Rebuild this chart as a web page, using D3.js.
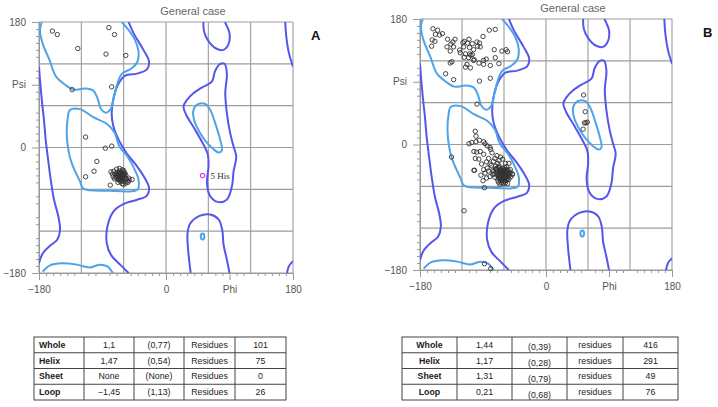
<!DOCTYPE html>
<html><head><meta charset="utf-8">
<script src="https://cdn.jsdelivr.net/npm/d3@7"></script>
<style>body{margin:0;background:#fff} svg{display:block}</style>
</head><body>
<svg id="chart" width="718" height="407"></svg>
<script>
// ---- axis / tick labels ----
var gridVals = [-180, -120, -60, 0, 60, 120, 180];
var minorVals = [-170,-160,-150,-140,-130,-110,-100,-80,-70,-50,-40,-30,-20,-10,10,20,30,40,50,70,80,100,110,130,140,150,160,170];
var psiTickVals = [180, 90, 0, -180];
var psiTickLabels = ["180", "Psi", "0", "\u2212180"];
var phiTickVals = [-180, 0, 90, 180];
var phiTickLabels = ["\u2212180", "0", "Phi", "180"];

// ---- contour lines (phi, psi) ----
var outerLeftEdge = [[-180,116],[-178.6,97],[-176,68],[-173,40],[-170.5,11],[-167,-18],[-163.4,-46],[-158.7,-75],[-152.6,-99],[-150.2,-118],[-154,-132],[-164.4,-141],[-174.8,-152],[-180,-166]];
var outerAlphaBeta = [[-53,180],[-46,164],[-32,140],[-24,123],[-27,112],[-41,106],[-58,103],[-67,92],[-74,73],[-77,49],[-74.5,30],[-67,11],[-56,-8],[-41,-27],[-30,-44],[-24,-58],[-27,-69],[-41,-75],[-60,-81],[-74.5,-92],[-83,-113],[-84,-137],[-78,-154],[-65,-168],[-53,-180]];
var outerRightTop = [[169,180],[170.5,159],[174.3,135],[180,116]];
var outerRightBottom = [[180,-163],[174.3,-170],[171.4,-180]];
var outerLeftHand = [[29.5,68],[24.8,59],[28.6,47],[40,27.6],[50.8,8.5],[59,-9],[60.3,-27],[58,-49],[61.7,-68],[73,-78],[86,-75],[93.4,-56],[95.8,-34],[99.5,-13],[95.8,1.4],[91,20.5],[86.3,49],[84,78],[86.3,106],[83,120],[76.8,120],[69.7,110],[65,94.5],[50.8,86],[38,77]];
var outerGammaTop = [[53,180],[54,166],[60,153],[71,142],[81.6,140],[88.7,148.5],[90,164],[86.3,174],[83.5,180]];
var outerGammaBottom = [[35,-180],[33.3,-166],[31.4,-147],[30.5,-123],[34.3,-109],[47.5,-98],[62.6,-96],[74.5,-103],[79.7,-118],[81.6,-139.5],[86.3,-161],[90,-180]];
var innerBetaTop = [[-176,180],[-178.6,168.5],[-174.8,149],[-165.3,126],[-156,102],[-143,90],[-131,83],[-115,84.5],[-103,81.6],[-97,70.6],[-92.5,56],[-85,50],[-78,56],[-73.6,73],[-68.8,92],[-62.7,105.5],[-48.5,113.6],[-40.5,123],[-39,137.5],[-43.8,154],[-53,168.5],[-62.7,180]];
var innerBetaBottom = [[-174.8,-178],[-164.4,-169],[-147.8,-166],[-126.5,-168],[-108.6,-172],[-93.4,-168],[-83,-170.6],[-77,-177.7],[-75.5,-180]];
var innerAlpha = [[-136,54],[-121.8,55],[-103,43.4],[-84,34],[-73,21.4],[-66,1.4],[-54.7,-13],[-45.2,-30],[-39,-46],[-40,-60],[-51,-63],[-79,-62],[-117,-59],[-121.8,-49],[-133.6,-22.5],[-138.4,-3.4],[-140.7,20.5],[-139.3,42]];
var innerLeftHand = [[46,62.5],[55.6,62.5],[62.6,54],[69.7,35],[76.8,11],[79.2,-4.4],[74.5,-7.2],[67.4,-2.4],[58,7],[48.5,20.5],[40,38.6],[39,54]];
var innerSmall = [51.8, -127.6];

// ---- residues, plot A ----
var pointsA = [[-161,167],[-154,162],[-125,142],[-81,172],[-73,162],[-85,134],[-57,132],[-133,83],[-77,87],
  [-114,15],[-86,-1],[-77,2],[-98,-20],[-102,-34],[-114,-42],[-79,-54],[-48,-46],[-54,-50],[-60,-53],
  [-64,-40],[-66,-42],[-62,-38],[-65,-37],[-63,-44],[-60,-41],[-68,-39],[-61,-45],[-67,-44],[-64,-36],
  [-59,-38],[-70,-41],[-62,-47],[-66,-34],[-58,-43],[-69,-36],[-63,-41],[-65,-46],[-61,-35],[-67,-40],
  [-60,-48],[-72,-38],[-57,-40],[-64,-49],[-68,-46],[-62,-32],[-56,-45],[-71,-43],[-66,-38],[-63,-39],
  [-59,-44],[-65,-43],[-62,-42],[-67,-37],[-61,-39],[-64,-45],[-58,-37],[-69,-42],[-60,-36],[-66,-47],
  [-74,-34],[-76,-38],[-55,-48],[-53,-44],[-70,-31],[-73,-45],[-57,-51],[-78,-35],[-52,-47],[-62,-52],
  [-68,-50],[-75,-42],[-66,-30],[-60,-33]];
var outlierA = [[51.8, -40.2, "5 His"]];

// ---- residues, plot B ----
var pointsB = [
  [-161.5,166],[-154.8,164],[-158,158],[-152,157],[-148,159],[-162.5,150],[-158.7,148],[-163.4,141],[-140.6,151],[-133,147],
  [-130,151],[-135.8,144],[-141.5,140],[-132,140],[-136.8,134],[-123.4,135.5],[-118.7,146],[-116.8,148],[-110,151],[-112,145.5],
  [-105.3,144.6],[-98.7,147],[-94.9,145.5],[-97.7,141],[-93.9,140],[-117.7,140],[-109.2,139],[-103.4,136],[-122.5,131.6],[-114.9,130],
  [-109.2,130],[-107.3,128],[-105.3,129],[-116.8,125],[-110.6,124.5],[-103.4,120.6],[-102.5,121.6],[-95.8,116.8],[-89.2,120.6],[-85.4,122.5],
  [-90,155],[-81,164],[-72.5,165],[-74,136],[-63,134],[-57,136],[-55,133],[-72.5,124.5],[-67.3,116],[-89.2,115],
  [-79.6,113.4],[-113,115],[-115,111],[-108,110],[-136.8,117],[-134.4,118.7],[-143.4,101.5],[-132,93],[-95,91],[-79.6,95],
  [-98.6,58],[-88,-171],[-79,-178],[-117,-95],[-88,-62],[-135,-18],
  [53.7,71],[56,47],[55,31],[57,31],[59,32],[53,22],
  [-101,19],[-100,12],[-110,1],[-106,3],[-100,4],[-95,6],[-89,4],[-87,1],[-84,-2],[-80,-4],[-79,-7],
  [-103,-10],[-99,-11],[-94,-10],[-89,-14],[-101,-20],[-96,-21],[-70,-16],[-65,-18],[-75,-24],[-67,-23],
  [-62,-21],[-80,-28],[-72,-31],[-84,-34],[-89,-36],[-103,-37],[-102,-37],[-87,-41],[-80,-46],[-75,-39],
  [-58,-27],[-56,-32],[-53,-27],[-51,-36],[-48,-42],
  [-77,-12],[-73,-20],[-69,-27],[-82,-20],[-78,-30],[-71,-36],[-85,-25],[-92,-28],[-76,-43],[-82,-38],[-93,-44],[-85,-48],[-90,-52],
  [-61,-42],[-63,-40],[-59,-44],[-65,-43],[-60,-38],[-57,-41],[-62,-46],[-64,-37],[-58,-47],[-66,-40],
  [-56,-44],[-61,-49],[-63,-45],[-67,-46],[-59,-36],[-55,-39],[-62,-34],[-68,-43],[-60,-51],[-64,-48],
  [-57,-50],[-65,-35],[-53,-45],[-69,-38],[-58,-39],[-62,-43],[-60,-45],[-66,-49],[-54,-48],[-63,-52],
  [-67,-33],[-56,-36],[-70,-44],[-61,-37],[-59,-53],[-65,-51],[-52,-42],[-68,-48],[-62,-40],[-58,-42],
  [-64,-44],[-60,-41],[-57,-46],[-63,-49],[-61,-47],[-55,-43],[-66,-45],[-59,-40],[-62,-38],[-65,-41],
  [-71,-40],[-72,-35],[-53,-50],[-58,-55],[-64,-55],[-50,-46],[-69,-51],[-74,-42],[-67,-31],[-54,-37],
  [-60,-43],[-62,-44],[-58,-45],[-63,-42],[-61,-39],[-57,-38],[-65,-47],[-59,-48],[-66,-37],[-56,-51],
  [-73,-47],[-70,-34],[-51,-40],[-76,-37],[-68,-54],[-55,-56],[-61,-56],[-48,-43],[-66,-57],[-59,-33]];

// ---- tables ----
var rowNames = ["Whole", "Helix", "Sheet", "Loop"];
var scoreA = ["1,1", "1,47", "None", "\u22121,45"];
var errA = ["(0,77)", "(0,54)", "(None)", "(1,13)"];
var countA = [101, 75, 0, 26];
var scoreB = ["1,44", "1,17", "1,31", "0,21"];
var errB = ["(0,39)", "(0,28)", "(0,79)", "(0,68)"];
var countB = [416, 291, 49, 76];

var svg = d3.select("#chart");
var outerColor = "#5656ec", innerColor = "#4ea4e8";

function drawPlot(p) {
  var x = d3.scaleLinear().domain([-180, 180]).range([p.x0, p.x1]);
  var y = d3.scaleLinear().domain([-180, 180]).range([p.y1, p.y0]);
  var g = svg.append("g");

  g.append("clipPath").attr("id", p.id + "clip").append("rect")
    .attr("x", p.x0).attr("y", p.y0).attr("width", p.x1 - p.x0).attr("height", p.y1 - p.y0);

  // grid
  g.selectAll(".gv").data(gridVals).enter().append("line")
    .attr("x1", d => x(d)).attr("x2", d => x(d)).attr("y1", p.y0).attr("y2", p.y1)
    .attr("stroke", "#9c9c9c").attr("stroke-width", 1.1);
  g.selectAll(".gh").data(gridVals).enter().append("line")
    .attr("y1", d => y(d)).attr("y2", d => y(d)).attr("x1", p.x0).attr("x2", p.x1)
    .attr("stroke", "#9c9c9c").attr("stroke-width", 1.1);

  // axes
  var axes = [
    g.append("g").attr("transform", "translate(" + p.x0 + ",0)")
      .call(d3.axisLeft(y).tickValues(minorVals).tickSize(3).tickSizeOuter(0).tickFormat("")),
    g.append("g").attr("transform", "translate(" + p.x0 + ",0)")
      .call(d3.axisLeft(y).tickValues(psiTickVals).tickSize(7).tickPadding(6).tickSizeOuter(0).tickFormat((d, i) => psiTickLabels[i])),
    g.append("g").attr("transform", "translate(0," + p.y1 + ")")
      .call(d3.axisBottom(x).tickValues(minorVals).tickSize(3).tickSizeOuter(0).tickFormat("")),
    g.append("g").attr("transform", "translate(0," + p.y1 + ")")
      .call(d3.axisBottom(x).tickValues(phiTickVals).tickSize(7).tickPadding(6).tickSizeOuter(0).tickFormat((d, i) => phiTickLabels[i]))
  ];
  axes.forEach(function(a) {
    a.select(".domain").attr("stroke", "#999");
    a.selectAll(".tick line").attr("stroke", "#999");
    a.selectAll("text").attr("fill", "#555").attr("font-family", "Liberation Sans, Arial, sans-serif").attr("font-size", 10);
  });

  // contours
  var cg = g.append("g").attr("clip-path", "url(#" + p.id + "clip)").attr("fill", "none").attr("stroke-width", 2);
  var open = d3.line().x(d => x(d[0])).y(d => y(d[1])).curve(d3.curveCatmullRom);
  var closed = d3.line().x(d => x(d[0])).y(d => y(d[1])).curve(d3.curveCatmullRomClosed);
  [outerLeftEdge, outerAlphaBeta, outerRightTop, outerRightBottom, outerGammaTop, outerGammaBottom].forEach(function(c) {
    cg.append("path").attr("d", open(c)).attr("stroke", outerColor);
  });
  cg.append("path").attr("d", closed(outerLeftHand)).attr("stroke", outerColor);
  [innerBetaTop, innerBetaBottom].forEach(function(c) {
    cg.append("path").attr("d", open(c)).attr("stroke", innerColor);
  });
  cg.append("path").attr("d", closed(innerAlpha)).attr("stroke", innerColor);
  cg.append("path").attr("d", closed(innerLeftHand)).attr("stroke", innerColor);
  cg.append("ellipse").attr("cx", x(innerSmall[0])).attr("cy", y(innerSmall[1]))
    .attr("rx", 1.8).attr("ry", 3).attr("stroke", innerColor);

  // residues
  g.append("g").selectAll("circle").data(p.points).enter().append("circle")
    .attr("cx", d => x(d[0])).attr("cy", d => y(d[1])).attr("r", 2.2)
    .attr("fill", "none").attr("stroke", "#333").attr("stroke-width", 0.9);

  if (p.outliers) {
    var og = g.append("g").selectAll("g").data(p.outliers).enter().append("g");
    og.append("circle").attr("cx", d => x(d[0])).attr("cy", d => y(d[1])).attr("r", 2.2)
      .attr("fill", "none").attr("stroke", "#e040e0").attr("stroke-width", 1.1);
    og.append("text").attr("x", d => x(d[0]) + 8).attr("y", d => y(d[1]) + 3)
      .attr("font-family", "Liberation Serif, serif").attr("font-size", 9).attr("fill", "#333")
      .text(d => d[2]);
  }

  // title and panel letter
  g.append("text").attr("x", (p.x0 + p.x1) / 2 + 27).attr("y", p.y0 - 7)
    .attr("text-anchor", "middle").attr("font-family", "Liberation Sans, Arial, sans-serif")
    .attr("font-size", 11).attr("fill", "#666").text("General case");
  g.append("text").attr("x", p.letterX).attr("y", p.y0 + 18)
    .attr("font-family", "Liberation Sans, Arial, sans-serif").attr("font-weight", "bold")
    .attr("font-size", 13).attr("fill", "#111").text(p.letter);
}

function drawTable(t) {
  var g = svg.append("g");
  var rowY = d3.scaleBand().domain(rowNames).range([t.y0, t.y1]);
  var cols = t.cols;
  var cells = [rowNames, t.score, t.err, rowNames.map(() => t.word), t.count];
  g.append("rect").attr("x", cols[0]).attr("y", t.y0).attr("width", cols[5] - cols[0]).attr("height", t.y1 - t.y0)
    .attr("fill", "none").attr("stroke", "#444").attr("stroke-width", 1);
  cols.slice(1, 5).forEach(function(cx) {
    g.append("line").attr("x1", cx).attr("x2", cx).attr("y1", t.y0).attr("y2", t.y1).attr("stroke", "#444");
  });
  rowNames.slice(1).forEach(function(r) {
    g.append("line").attr("x1", cols[0]).attr("x2", cols[5]).attr("y1", rowY(r)).attr("y2", rowY(r)).attr("stroke", "#444");
  });
  cells.forEach(function(col, ci) {
    col.forEach(function(v, ri) {
      var left = ci === 0 && t.leftFirst;
      g.append("text")
        .attr("x", left ? cols[0] + 5 : (cols[ci] + cols[ci + 1]) / 2)
        .attr("y", rowY(rowNames[ri]) + rowY.bandwidth() / 2 + 3 + (ci === 2 ? t.errShift : 0))
        .attr("text-anchor", left ? "start" : "middle")
        .attr("font-family", "Liberation Sans, Arial, sans-serif")
        .attr("font-size", 8.8).attr("font-weight", ci === 0 ? "bold" : "normal")
        .attr("fill", "#222").text(v);
    });
  });
}

drawPlot({id: "a", x0: 39, x1: 293, y0: 22, y1: 273, points: pointsA, outliers: outlierA, letter: "A", letterX: 311});
drawPlot({id: "b", x0: 420, x1: 672, y0: 19, y1: 270, points: pointsB, letter: "B", letterX: 703});

drawTable({cols: [34, 84, 134, 184, 235, 286], y0: 337, y1: 400, score: scoreA, err: errA, word: "Residues", count: countA, leftFirst: true, errShift: 0});
drawTable({cols: [402, 457, 512, 567, 623, 678], y0: 337, y1: 400, score: scoreB, err: errB, word: "residues", count: countB, leftFirst: false, errShift: 2.5});
</script></body></html>
